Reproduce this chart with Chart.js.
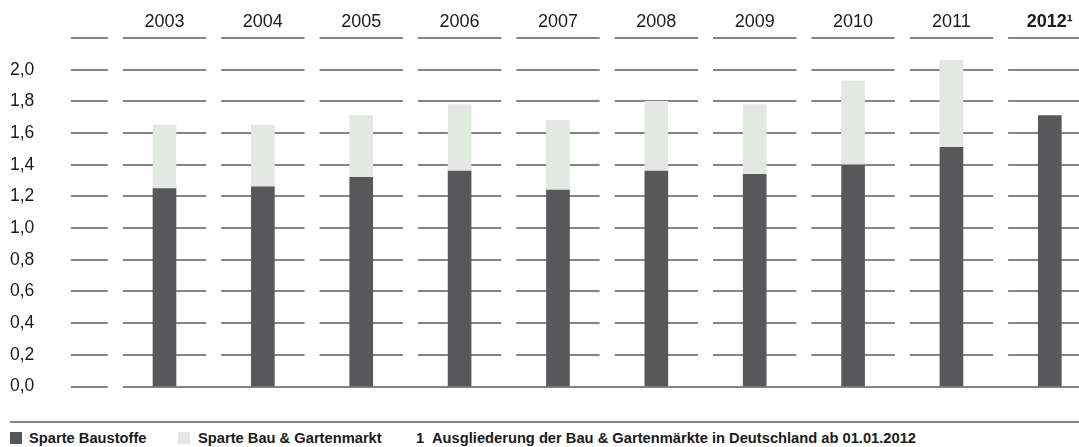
<!DOCTYPE html>
<html>
<head>
<meta charset="utf-8">
<script src="https://cdn.jsdelivr.net/npm/chart.js@4.4.1/dist/chart.umd.min.js"></script>
<style>
  html, body { margin: 0; padding: 0; overflow: hidden; background: #fff; }
  body { width: 1079px; height: 447px; position: relative; font-family: "Liberation Sans", Arial, sans-serif; }
  #wrap { position: absolute; left: 0; top: 0; width: 1099px; height: 400px; }
  #rule { position: absolute; left: 10px; top: 421px; width: 1069px; height: 2px; background: #858585; }
  .leg { position: absolute; top: 429px; font-size: 14.7px; font-weight: bold; color: #1a1a1a; line-height: 18px; white-space: nowrap; }
  .box { position: absolute; top: 432px; width: 12px; height: 12px; }
</style>
</head>
<body>
<div id="wrap"><canvas id="umsatzChart"></canvas></div>
<div id="rule"></div>
<div class="box" style="left:10px;background:#58585a"></div>
<div class="leg" style="left:29px">Sparte Baustoffe</div>
<div class="box" style="left:178px;background:#e3e8e3"></div>
<div class="leg" style="left:198px">Sparte Bau &amp; Gartenmarkt</div>
<div class="leg" style="left:416px">1</div>
<div class="leg" style="left:432px">Ausgliederung der Bau &amp; Gartenmärkte in Deutschland ab 01.01.2012</div>
<script>
var years = ['2003', '2004', '2005', '2006', '2007', '2008', '2009', '2010', '2011', '2012\u00b9'];
var baustoffe = [1.25, 1.26, 1.32, 1.36, 1.24, 1.36, 1.34, 1.40, 1.51, 1.71];
var gartenmarkt = [0.40, 0.39, 0.39, 0.42, 0.44, 0.44, 0.44, 0.53, 0.55, null];
var yMax = 2.2;
var yStep = 0.2;

// horizontal grid lines broken up per category column
var gridSegments = {
    id: 'gridSegments',
    beforeDatasetsDraw: function (chart) {
        var ctx = chart.ctx;
        var x = chart.scales.x, y = chart.scales.y;
        var w = x.getPixelForValue(1) - x.getPixelForValue(0);
        var gap = 15;
        var first = x.getPixelForValue(0) - w / 2;
        ctx.save();
        ctx.strokeStyle = '#858585';
        ctx.lineWidth = 2;
        y.ticks.forEach(function (t) {
            var py = Math.round(y.getPixelForValue(t.value));
            ctx.beginPath();
            ctx.moveTo(first - gap / 2 - 37, py);
            ctx.lineTo(first - gap / 2, py);
            if (t.value === 0) {
                ctx.moveTo(first + gap / 2, py);
                ctx.lineTo(chart.width, py);
            } else {
                x.ticks.forEach(function (_, i) {
                    var c = x.getPixelForValue(i);
                    ctx.moveTo(c - w / 2 + gap / 2, py);
                    ctx.lineTo(c + w / 2 - gap / 2, py);
                });
            }
            ctx.stroke();
        });
        ctx.restore();
    }
};

var ctx = document.getElementById('umsatzChart').getContext('2d');
var umsatzChart = new Chart(ctx, {
    type: 'bar',
    data: {
        labels: years,
        datasets: [{
            label: 'Sparte Baustoffe',
            data: baustoffe,
            backgroundColor: '#58585a',
            barThickness: 23
        }, {
            label: 'Sparte Bau & Gartenmarkt',
            data: gartenmarkt,
            backgroundColor: '#e3e8e3',
            barThickness: 23
        }]
    },
    options: {
        responsive: true,
        maintainAspectRatio: false,
        animation: false,
        layout: { padding: { left: 10, right: 0, top: 0, bottom: 10.5 } },
        plugins: {
            legend: { display: false },
            tooltip: { enabled: false }
        },
        scales: {
            x: {
                position: 'top',
                stacked: true,
                grid: { display: false, drawTicks: false },
                border: { display: false },
                ticks: {
                    padding: 5,
                    color: '#1a1a1a',
                    font: function (c) {
                        return {
                            family: '"Liberation Sans", Arial, sans-serif',
                            size: 18,
                            weight: c.index === 9 ? 'bold' : 'normal'
                        };
                    }
                },
                afterFit: function (scale) { scale.height = 38; }
            },
            y: {
                stacked: true,
                min: 0,
                max: yMax,
                grid: { display: false, drawTicks: false },
                border: { display: false },
                ticks: {
                    stepSize: yStep,
                    crossAlign: 'far',
                    color: '#1a1a1a',
                    font: { family: '"Liberation Sans", Arial, sans-serif', size: 17.5 },
                    callback: function (v) {
                        if (v > 2.05) return '';
                        return v.toFixed(1).replace('.', ',');
                    }
                },
                afterFit: function (scale) { scale.width = 105.3; }
            }
        }
    },
    plugins: [gridSegments]
});
</script>
</body>
</html>
